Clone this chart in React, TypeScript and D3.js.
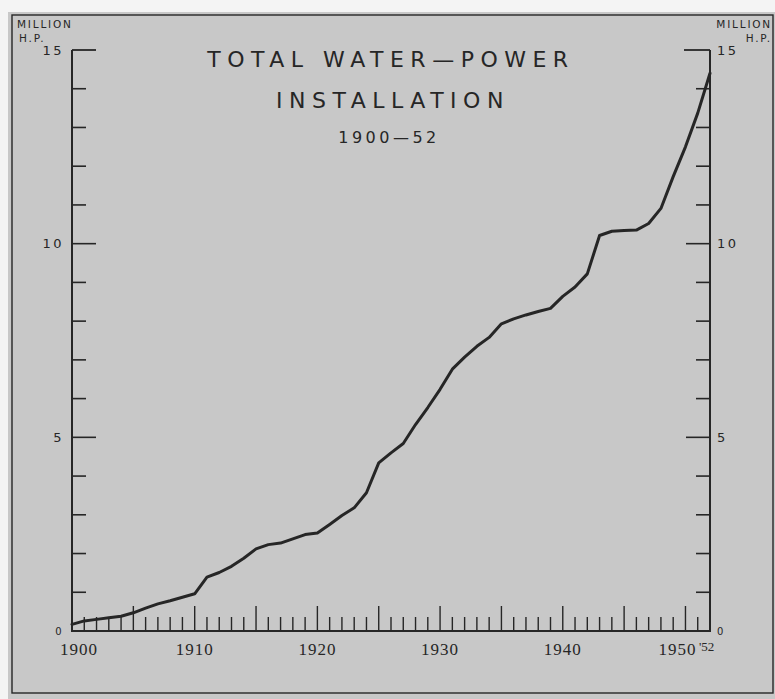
import React from "react";
import * as d3 from "d3";

// Total water-power installation, million h.p.
const years = [
  1900, 1901, 1902, 1903, 1904, 1905, 1906, 1907, 1908, 1909,
  1910, 1911, 1912, 1913, 1914, 1915, 1916, 1917, 1918, 1919,
  1920, 1921, 1922, 1923, 1924, 1925, 1926, 1927, 1928, 1929,
  1930, 1931, 1932, 1933, 1934, 1935, 1936, 1937, 1938, 1939,
  1940, 1941, 1942, 1943, 1944, 1945, 1946, 1947, 1948, 1949,
  1950, 1951, 1952
];
const installedHP = [
  0.17, 0.26, 0.3, 0.34, 0.38, 0.47, 0.59, 0.7, 0.78, 0.87,
  0.96, 1.39, 1.51, 1.67, 1.88, 2.12, 2.23, 2.27, 2.38, 2.49,
  2.53, 2.75, 2.98, 3.18, 3.57, 4.34, 4.6, 4.84, 5.33, 5.77,
  6.24, 6.76, 7.07, 7.35, 7.58, 7.93, 8.06, 8.16, 8.25, 8.33,
  8.64, 8.88, 9.22, 10.21, 10.32, 10.34, 10.35, 10.52, 10.91, 11.73,
  12.5, 13.37, 14.4
];
const yLabels = [0, 5, 10, 15];
const xLabels = [1900, 1910, 1920, 1930, 1940, 1950];
const titleLines = ["TOTAL WATER—POWER", "INSTALLATION"];
const subtitle = "1900—52";

const W = 775;
const H = 699;
const ink = "#262626";
const paper = "#c8c8c8";

const App = () => {
  const x = d3.scaleLinear().domain([1900, 1952]).range([72, 710]);
  const y = d3.scaleLinear().domain([0, 15]).range([631, 50]);

  const line = d3
    .line<number>()
    .x((d, i) => x(years[i]))
    .y(d => y(d));

  const yTicks = d3.range(1, 15);
  const xTicks = d3.range(1901, 1952);

  const sans = "'DejaVu Sans', sans-serif";
  const serif = "'Liberation Serif', serif";

  return (
    <div style={{ position: "absolute", left: 0, top: 0 }}>
      <svg width={W} height={H} style={{ display: "block" }}>
        <rect width={W} height={H} fill="#f4f4f4" />
        <rect x={8} y={12} width={W - 8} height={H - 12} fill={paper} />
        <rect
          x={12}
          y={15}
          width={761}
          height={678}
          fill="none"
          stroke={ink}
          strokeWidth={1.4}
        />

        {/* unit labels */}
        <g fill={ink} fontFamily={sans} fontSize={10.5} letterSpacing={1.8}>
          <text x={17} y={28}>MILLION</text>
          <text x={19} y={42}>H.P.</text>
          <text x={772} y={28} textAnchor="end">MILLION</text>
          <text x={772} y={42} textAnchor="end">H.P.</text>
        </g>

        {/* title */}
        <g fill={ink} fontFamily={sans} textAnchor="middle">
          <text x={391} y={67} fontSize={22} letterSpacing={6.5}>
            {titleLines[0]}
          </text>
          <text x={393} y={108} fontSize={22} letterSpacing={6.5}>
            {titleLines[1]}
          </text>
          <text x={389} y={143} fontSize={16} letterSpacing={3.5}>
            {subtitle}
          </text>
        </g>

        {/* axes */}
        <g stroke={ink} fill="none">
          <path
            d={`M${x(1900)},${y(15)}V${y(0)}H${x(1952)}V${y(15)}`}
            strokeWidth={2}
          />
          <line x1={x(1900)} x2={x(1900) + 24} y1={y(15)} y2={y(15)} strokeWidth={1.8} />
          <line x1={x(1952)} x2={x(1952) - 26} y1={y(15)} y2={y(15)} strokeWidth={1.8} />
          {yTicks.map(t => {
            const len = t % 5 === 0 ? 24 : 14;
            return (
              <g key={t} strokeWidth={1.6}>
                <line x1={x(1900)} x2={x(1900) + len} y1={y(t)} y2={y(t)} />
                <line x1={x(1952)} x2={x(1952) - len} y1={y(t)} y2={y(t)} />
              </g>
            );
          })}
          {xTicks.map(t => (
            <line
              key={t}
              x1={x(t)}
              x2={x(t)}
              y1={y(0)}
              y2={y(0) - (t % 5 === 0 ? 25 : 14)}
              strokeWidth={1.4}
            />
          ))}
        </g>

        {/* y labels */}
        <g fill={ink} fontFamily={sans} letterSpacing={2.5}>
          {yLabels.map(v => (
            <g key={v} fontSize={v === 0 ? 10 : 13}>
              <text x={64} y={y(v)} textAnchor="end" dominantBaseline="central">
                {v}
              </text>
              <text x={717} y={y(v)} dominantBaseline="central">
                {v}
              </text>
            </g>
          ))}
        </g>

        {/* x labels */}
        <g fill={ink} fontFamily={serif} fontSize={17} textAnchor="middle">
          {xLabels.map((v, i) => (
            <text
              key={v}
              x={x(v) + (i === 0 ? 7 : i === xLabels.length - 1 ? -8 : 0)}
              y={655}
              letterSpacing={1}
            >
              {v}
            </text>
          ))}
          <text x={699} y={651} fontSize={13} textAnchor="start">
            {"'52"}
          </text>
        </g>

        {/* the curve */}
        <path
          d={line(installedHP) || ""}
          fill="none"
          stroke={ink}
          strokeWidth={3}
          strokeLinejoin="round"
          strokeLinecap="round"
        />
      </svg>
    </div>
  );
};

export default App;
